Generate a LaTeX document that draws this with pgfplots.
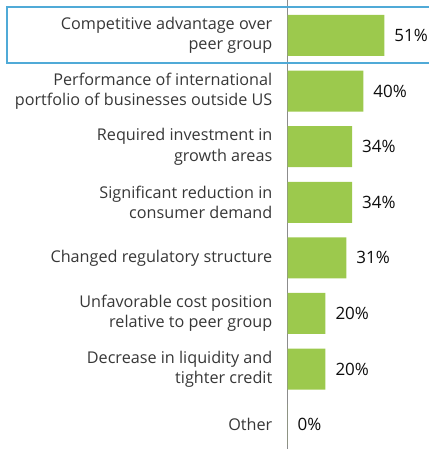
\documentclass[border=0pt]{standalone}
\usepackage{pgfplots}
\pgfplotsset{compat=1.18}
\usepackage{fontspec}
\setmainfont{Open Sans}
\definecolor{bargreen}{RGB}{156,201,77}
\definecolor{boxblue}{RGB}{80,170,215}
\definecolor{labgray}{RGB}{55,55,55}
\begin{document}
\begin{tikzpicture}
\path[use as bounding box] (0,0) rectangle (428pt,449pt);
\begin{axis}[
  at={(287.5pt,0pt)}, anchor=south west,
  scale only axis, width=140.5pt, height=449pt,
  xbar, bar width=41pt,
  xmin=0, xmax=74,
  ymin=-0.638, ymax=7.437, y dir=reverse,
  axis x line=none, axis y line=left,
  y axis line style={-, draw=gray!90, line width=0.8pt},
  ytick={0,...,7}, major tick length=0pt,
  yticklabels={{Competitive advantage over\\peer group},
    {Performance of international\\portfolio of businesses outside US},
    {Required investment in\\growth areas},
    {Significant reduction in\\consumer demand},
    {Changed regulatory structure},
    {Unfavorable cost position\\relative to peer group},
    {Decrease in liquidity and\\tighter credit},
    {Other}},
  yticklabel style={align=right, inner sep=0pt, xshift=-15pt,
    font=\fontsize{16.2}{20.5}\selectfont, text=labgray},
  /pgf/number format/assume math mode=true,
  point meta=x,
  nodes near coords={\pgfmathprintnumber{\pgfplotspointmeta}\%},
  nodes near coords style={anchor=west, xshift=6.5pt,
    font=\fontsize{17}{20}\selectfont, text=black!95},
]
\addplot+[fill=bargreen, draw=none] coordinates {
  (51,0) (40,1) (34,2) (34,3) (31,4) (20,5) (20,6) (0,7)};
\end{axis}
\draw[boxblue, line width=1.1pt] (7pt,442pt) rectangle (440pt,386pt);
\end{tikzpicture}
\end{document}
